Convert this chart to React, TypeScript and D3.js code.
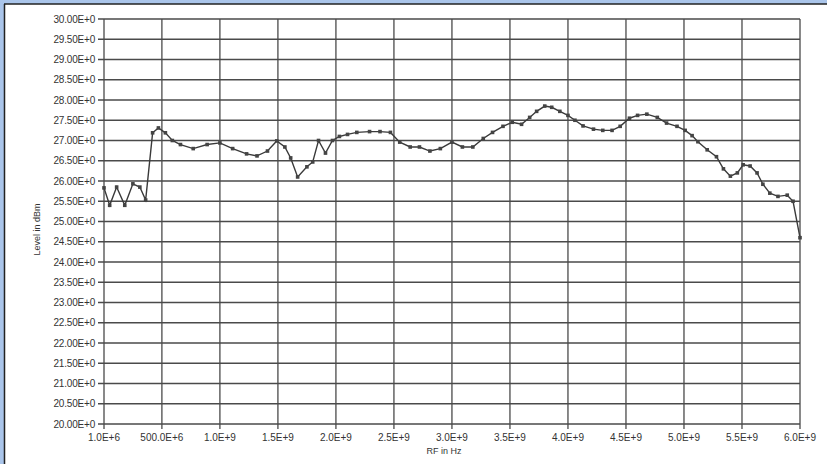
import React, { useEffect, useRef } from 'react';
import * as d3 from 'd3';

// RF frequency in GHz, level in dBm
const freqGHz = [
  0.001, 0.05, 0.11, 0.18, 0.25, 0.31, 0.36, 0.42, 0.47, 0.53, 0.59, 0.66, 0.77, 0.89,
  1.0, 1.11, 1.23, 1.32, 1.41, 1.49, 1.56, 1.61, 1.67, 1.75, 1.8, 1.85, 1.91, 1.97,
  2.03, 2.1, 2.18, 2.29, 2.38, 2.47, 2.55, 2.64, 2.72, 2.81, 2.9, 3.0, 3.09, 3.18,
  3.27, 3.35, 3.44, 3.52, 3.6, 3.67, 3.73, 3.8, 3.86, 3.93, 4.0, 4.06, 4.13, 4.22,
  4.3, 4.38, 4.45, 4.53, 4.6, 4.68, 4.77, 4.85, 4.94, 5.01, 5.07, 5.12, 5.2, 5.28,
  5.34, 5.4, 5.46, 5.51, 5.57, 5.63, 5.68, 5.74, 5.81, 5.89, 5.94, 6.0,
];
const levelDbm = [
  25.83, 25.4, 25.85, 25.4, 25.93, 25.85, 25.53, 27.19, 27.31, 27.19, 27.0, 26.9, 26.8, 26.9,
  26.94, 26.8, 26.67, 26.62, 26.74, 26.99, 26.84, 26.57, 26.1, 26.35, 26.47, 27.0, 26.69, 27.0,
  27.1, 27.15, 27.2, 27.22, 27.22, 27.2, 26.96, 26.84, 26.84, 26.74, 26.8, 26.96, 26.84, 26.84,
  27.05, 27.2, 27.35, 27.45, 27.4, 27.57, 27.72, 27.85, 27.82, 27.72, 27.62, 27.5, 27.36, 27.28,
  27.25, 27.25, 27.35, 27.55, 27.62, 27.65, 27.57, 27.43, 27.35, 27.25, 27.12, 26.97, 26.77, 26.6,
  26.3, 26.12, 26.2, 26.4, 26.37, 26.2, 25.92, 25.7, 25.62, 25.65, 25.5, 24.6,
];

const xTickValues = [0.001, 0.5, 1.0, 1.5, 2.0, 2.5, 3.0, 3.5, 4.0, 4.5, 5.0, 5.5, 6.0];
const xTickLabels = [
  '1.0E+6', '500.0E+6', '1.0E+9', '1.5E+9', '2.0E+9', '2.5E+9', '3.0E+9',
  '3.5E+9', '4.0E+9', '4.5E+9', '5.0E+9', '5.5E+9', '6.0E+9',
];
const yTickValues = d3.range(20, 30.001, 0.5);
const xTitle = 'RF in Hz';
const yTitle = 'Level in dBm';

const W = 827;
const H = 464;
const margin = { left: 104, right: 27, top: 19, bottom: 40 };

const App: React.FC = () => {
  const svgRef = useRef<SVGSVGElement>(null);

  useEffect(() => {
    if (!svgRef.current) return;
    const svg = d3.select(svgRef.current);
    svg.selectAll('*').remove();

    // frame
    svg.append('rect').attr('width', W).attr('height', H).attr('fill', '#aac5ea');
    svg.append('rect').attr('x', 5).attr('y', 4).attr('width', W - 5).attr('height', H - 4).attr('fill', '#fff');
    svg.append('line').attr('x1', 4.5).attr('x2', 4.5).attr('y1', 4).attr('y2', H).attr('stroke', '#222').attr('stroke-width', 1.5);
    svg.append('line').attr('x1', 4).attr('x2', W).attr('y1', 4).attr('y2', 4).attr('stroke', '#222').attr('stroke-width', 1.5);

    const x = d3.scaleLinear().domain([0.001, 6]).range([margin.left, W - margin.right]);
    const y = d3.scaleLinear().domain([20, 30]).range([H - margin.bottom, margin.top]);
    const font = 'Arial, "Liberation Sans", sans-serif';

    const grid = svg.append('g').attr('stroke', '#4a4a4a').attr('stroke-width', 1.3);
    grid.selectAll('line.h').data(yTickValues).enter().append('line')
      .attr('x1', margin.left - 6).attr('x2', W - margin.right)
      .attr('y1', d => y(d)).attr('y2', d => y(d));
    grid.selectAll('line.v').data(xTickValues).enter().append('line')
      .attr('x1', d => x(d)).attr('x2', d => x(d))
      .attr('y1', margin.top).attr('y2', H - margin.bottom + 5);

    // y tick labels
    svg.append('g').selectAll('text').data(yTickValues).enter().append('text')
      .attr('x', margin.left - 9).attr('y', d => y(d)).attr('dy', '0.35em')
      .attr('text-anchor', 'end').attr('font-family', font).attr('font-size', 10)
      .attr('fill', '#333').attr('letter-spacing', -0.2)
      .text(d => `${d.toFixed(2)}E+0`);

    // x tick labels
    svg.append('g').selectAll('text').data(xTickValues).enter().append('text')
      .attr('x', d => x(d)).attr('y', H - margin.bottom + 17)
      .attr('text-anchor', 'middle').attr('font-family', font).attr('font-size', 10)
      .attr('fill', '#333')
      .text((_, i) => xTickLabels[i]);

    svg.append('text').attr('x', (margin.left + W - margin.right) / 2 - 8).attr('y', H - 10)
      .attr('text-anchor', 'middle').attr('font-family', font).attr('font-size', 9).attr('fill', '#333')
      .text(xTitle);
    svg.append('text')
      .attr('transform', `translate(40,${(margin.top + H - margin.bottom) / 2 + 8}) rotate(-90)`)
      .attr('text-anchor', 'middle').attr('font-family', font).attr('font-size', 9).attr('fill', '#333')
      .text(yTitle);

    // series
    const pts = freqGHz.map((f, i) => [f, levelDbm[i]] as [number, number]);
    const line = d3.line<[number, number]>().x(d => x(d[0])).y(d => y(d[1]));
    svg.append('path').datum(pts).attr('d', line).attr('fill', 'none')
      .attr('stroke', '#3a3a3a').attr('stroke-width', 1.4);
    svg.append('g').selectAll('rect').data(pts).enter().append('rect')
      .attr('x', d => x(d[0]) - 1.8).attr('y', d => y(d[1]) - 1.8)
      .attr('width', 3.6).attr('height', 3.6).attr('fill', '#444');
  }, []);

  return (
    <svg
      ref={svgRef}
      width={W}
      height={H}
      style={{ position: 'fixed', left: 0, top: 0, display: 'block' }}
    />
  );
};

export default App;
